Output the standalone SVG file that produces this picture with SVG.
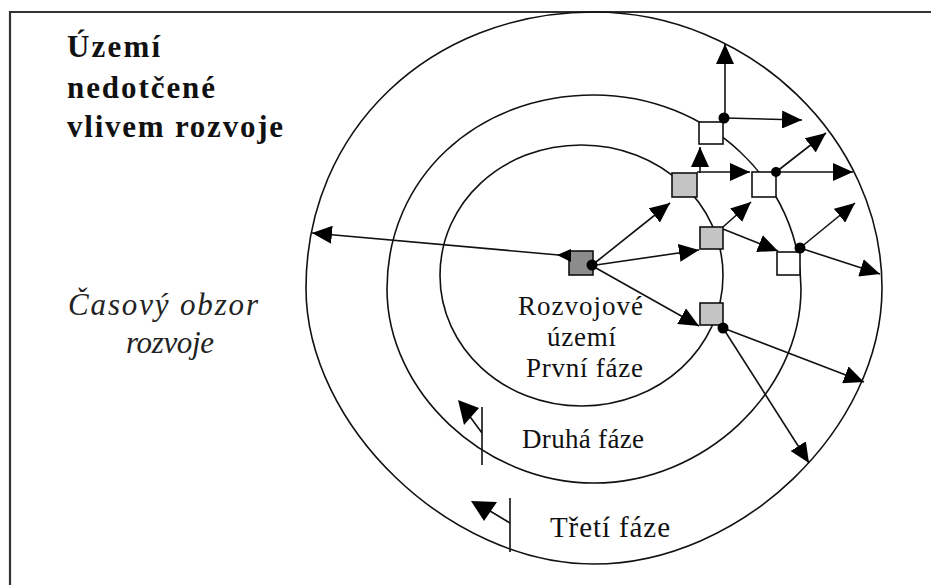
<svg xmlns="http://www.w3.org/2000/svg" width="931" height="585" viewBox="0 0 931 585">
<style>
.ring{fill:none;stroke:#111;stroke-width:1.6}
.con{fill:none;stroke:#111;stroke-width:1.6}
.arr{marker-end:url(#ah)}
.dot{fill:#000}
.dark{fill:#8c8c8c;stroke:#111;stroke-width:1.6}
.light{fill:#c4c4c4;stroke:#111;stroke-width:1.6}
.white{fill:#fff;stroke:#111;stroke-width:1.6}
.t{font-family:"Liberation Serif","Times New Roman",serif;fill:#111}
.b{font-weight:bold;font-size:31px}
.i{font-style:italic;font-size:31px;fill:#222}
.m{font-size:27px}
</style>
<defs>
<marker id="ah" markerUnits="userSpaceOnUse" markerWidth="20" markerHeight="18" refX="20" refY="9" orient="auto">
<path d="M0,0 L20,9 L0,18 z" fill="#000"/>
</marker>
</defs>
<rect width="931" height="585" fill="#fff"/>
<path d="M10,585 V12 H931" fill="none" stroke="#333" stroke-width="2.2"/>

<g id="rings">
<path class="ring" d="M882,288 C882,428.8 740.9,564 594,564 C450,564 306,426 306,288 C306,130.7 429.8,12 594,12 C749.5,12 882,139 882,288 Z"/>
<path class="ring" d="M801,289 C801,391.8 703.7,483 594,483 C484.3,483 387,391.8 387,289 C387,178.4 476,95 594,95 C707.9,95 801,182.3 801,289 Z"/>
<path class="ring" d="M723,275.5 C723,347.6 659.6,406 581.5,406 C503.4,406 440,347.6 440,275.5 C440,202.4 502.2,145 581.5,145 C659.6,145 723,203.4 723,275.5 Z"/>
</g>

<g id="title">
<text class="t b" x="67" y="57" textLength="93" lengthAdjust="spacing">Území</text>
<text class="t b" x="67" y="98" textLength="148" lengthAdjust="spacing">nedotčené</text>
<text class="t b" x="67" y="137" textLength="216" lengthAdjust="spacing">vlivem rozvoje</text>
</g>
<g id="horizon">
<text class="t i" x="68" y="315" textLength="190" lengthAdjust="spacing">Časový obzor</text>
<text class="t i" x="126" y="353" textLength="88" lengthAdjust="spacing">rozvoje</text>
</g>

<g id="node-center"><rect class="dark" x="569" y="251" width="24" height="24"/></g>
<g id="node-gray-1"><rect class="light" x="672" y="173" width="25" height="24"/></g>
<g id="node-gray-2"><rect class="light" x="700" y="227" width="23" height="22"/></g>
<g id="node-gray-3"><rect class="light" x="700" y="303" width="23" height="22"/></g>
<g id="node-white-1"><rect class="white" x="699" y="122" width="24" height="22"/></g>
<g id="node-white-2"><rect class="white" x="752" y="172" width="24" height="25"/></g>
<g id="node-white-3"><rect class="white" x="777" y="252" width="23" height="23"/></g>

<g id="connectors">
<path class="con arr" d="M570,256 L312,233"/>
<polygon points="557,255 571,249 571,262" fill="#000"/>
<path class="con arr" d="M596,262 L670,203"/>
<path class="con arr" d="M596,265 L699,250"/>
<path class="con arr" d="M596,268 L699,326"/>
<path class="con arr" d="M700,173 L700,147"/>
<path class="con arr" d="M697,172 L750,172"/>
<path class="con arr" d="M776,172 L853,172"/>
<path class="con arr" d="M776,172 L826,133"/>
<path class="con arr" d="M725,118 L725,44"/>
<path class="con arr" d="M725,118 L802,120"/>
<path class="con arr" d="M723,227 L751,202"/>
<path class="con arr" d="M723,229 L778,251"/>
<path class="con arr" d="M800,248 L855,203"/>
<path class="con arr" d="M800,248 L880,274"/>
<path class="con arr" d="M723,328 L864,382"/>
<path class="con arr" d="M723,328 L809,463"/>
<circle class="dot" cx="592" cy="265" r="5.5"/>
<circle class="dot" cx="776" cy="172" r="5"/>
<circle class="dot" cx="724" cy="118" r="5.5"/>
<circle class="dot" cx="800" cy="248" r="5.5"/>
<circle class="dot" cx="723" cy="328" r="5.5"/>
</g>

<g id="label-first">
<text class="t m" x="518" y="315" textLength="125" lengthAdjust="spacing">Rozvojové</text>
<text class="t m" x="547" y="346" textLength="69" lengthAdjust="spacing">území</text>
<text class="t m" x="526" y="377" textLength="117" lengthAdjust="spacing">První fáze</text>
</g>
<g id="label-second">
<path class="con" d="M482,407 V465 M482,433 L468,414"/>
<polygon points="458,400 479,408 464,425" fill="#000"/>
<text class="t m" x="522" y="448" textLength="122" lengthAdjust="spacing">Druhá fáze</text>
</g>
<g id="label-third">
<path class="con" d="M510,498 V552 M510,523 L490,511"/>
<polygon points="471,501 497,502 484,521" fill="#000"/>
<text class="t" style="font-size:29px" x="550" y="537" textLength="120" lengthAdjust="spacing">Třetí fáze</text>
</g>
</svg>
